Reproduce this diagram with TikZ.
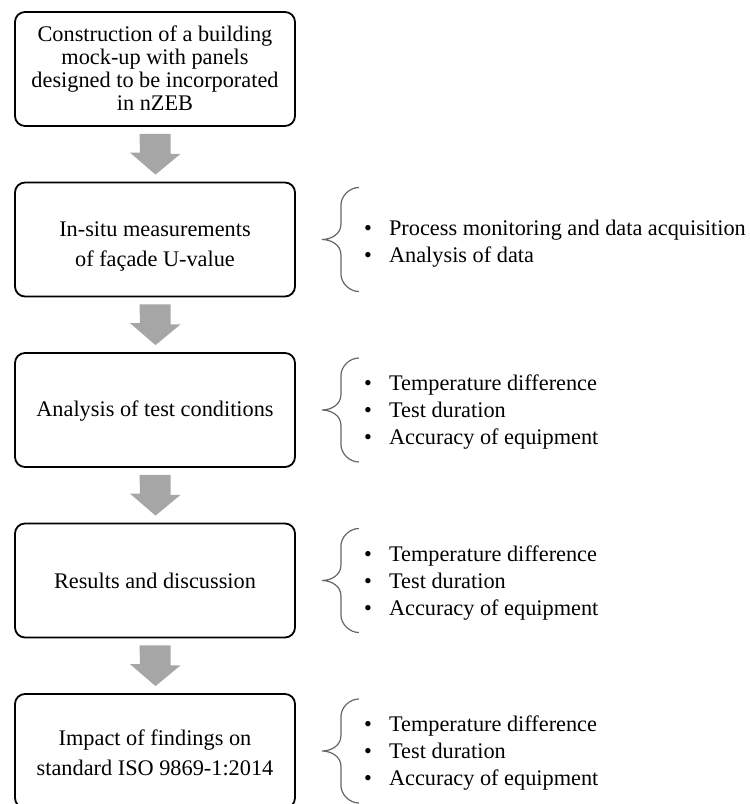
\documentclass[tikz,border=0pt]{standalone}
\usepackage{fontspec}
\setmainfont{Liberation Serif}
\usetikzlibrary{calc}
\begin{document}
\begin{tikzpicture}[x=1pt,y=-1pt,
  box/.style={draw=black, line width=1.8pt, rounded corners=10pt, minimum width=280pt, minimum height=114pt, inner sep=0pt},
  boxtext/.style={align=center, inner sep=0pt, font=\fontsize{22.3}{30}\selectfont, text=black},
  itemtext/.style={anchor=base west, inner sep=0pt, font=\fontsize{22.3}{27}\selectfont, text=black},
  blockarrow/.style={fill=black!35},
  bracestyle/.style={draw=black!60, line width=1.2pt}]
\useasboundingbox (0,0) rectangle (750,804);
\clip (0,0) rectangle (750,804);
% boxes
\node[box] (b1) at (155,69) {};
\node[box] (b2) at (155,239.5) {};
\node[box] (b3) at (155,410) {};
\node[box] (b4) at (155,580.5) {};
\node[box] (b5) at (155,751) {};
% box texts
\node[boxtext, font=\fontsize{22.3}{23}\selectfont] (t1) at (155,68.4) {Construction of a building\\mock-up with panels\\designed to be incorporated\\in nZEB};
\node[boxtext] (t2) at (155,246) {In-situ measurements\\of façade U-value};
\node[boxtext] (t3) at (155,411) {Analysis of test conditions};
\node[boxtext] (t4) at (155,581) {Results and discussion};
\node[boxtext] (t5) at (155,753) {Impact of findings on\\standard ISO 9869-1:2014};
% block arrows
\foreach \a/\b in {b1/b2, b2/b3, b3/b4, b4/b5} {
  \fill[blockarrow] ($(\a.south)+(-15.5,7)$) -- ++(31,0) -- ++(0,20) -- ++(10,0)
     -- ($(\b.north)+(0.5,-7)$) -- ++(-25.5,-22) -- ++(10,0) -- cycle;
}
% braces
\foreach \b in {b2,b3,b4,b5} {
  \draw[bracestyle] ($(\b.east)+(63,-52)$) .. controls ($(\b.east)+(54,-52)$) and ($(\b.east)+(45,-44)$) .. ($(\b.east)+(45,-34)$)
     -- ($(\b.east)+(45,-15)$) .. controls ($(\b.east)+(45,-6)$) and ($(\b.east)+(36,0)$) .. ($(\b.east)+(26,0)$)
     .. controls ($(\b.east)+(36,0)$) and ($(\b.east)+(45,6)$) .. ($(\b.east)+(45,15)$)
     -- ($(\b.east)+(45,34)$) .. controls ($(\b.east)+(45,44)$) and ($(\b.east)+(54,52)$) .. ($(\b.east)+(63,52)$);
}
% bullet lists
\node[itemtext] (l2a) at ($(b2.east)+(68,-4.5)$) {\makebox[25pt][l]{•}Process monitoring and data acquisition};
\node[itemtext] (l2b) at ($(b2.east)+(68,22.5)$) {\makebox[25pt][l]{•}Analysis of data};
\foreach \b/\n in {b3/3, b4/4, b5/5} {
  \node[itemtext] (l\n a) at ($(\b.east)+(68,-19.5)$) {\makebox[25pt][l]{•}Temperature difference};
  \node[itemtext] (l\n b) at ($(\b.east)+(68,7.5)$) {\makebox[25pt][l]{•}Test duration};
  \node[itemtext] (l\n c) at ($(\b.east)+(68,34.5)$) {\makebox[25pt][l]{•}Accuracy of equipment};
}
\end{tikzpicture}
\end{document}
